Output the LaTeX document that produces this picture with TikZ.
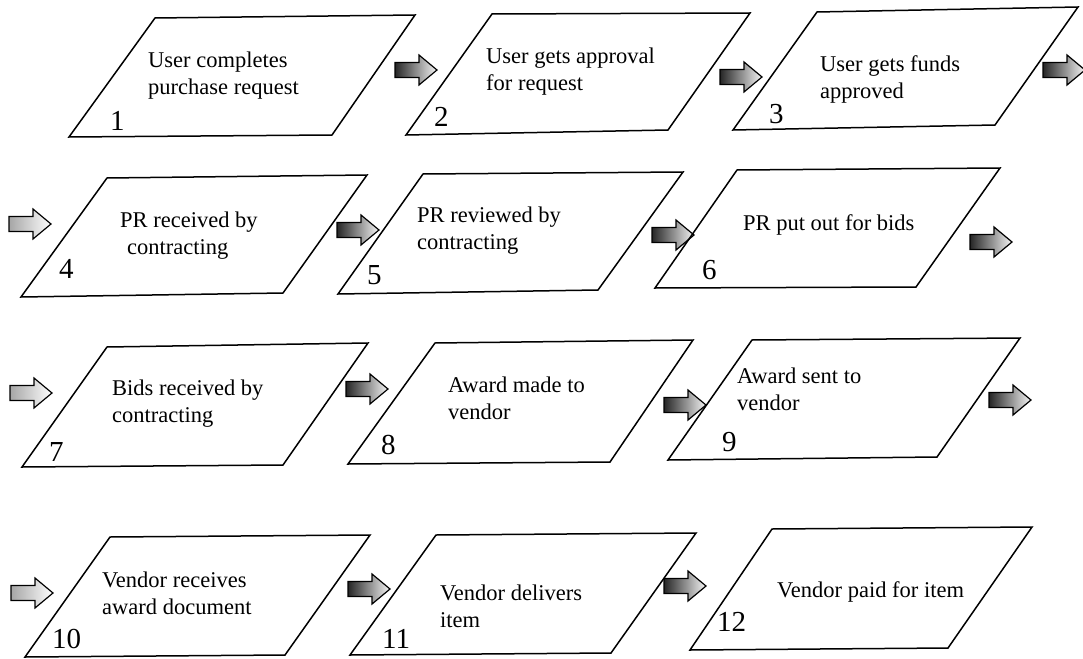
\documentclass[tikz,border=0pt]{standalone}
\usepackage{fontspec}
\setmainfont{Liberation Serif}
\begin{document}
\begin{tikzpicture}[x=1pt,y=-1pt,
  stepbox/.style={draw, line width=1.5pt, line join=miter},
  steptext/.style={anchor=base west, align=left, inner sep=0pt,
                   font=\fontsize{22.5}{27}\selectfont},
  stepnum/.style={anchor=base west, inner sep=0pt,
                  font=\fontsize{29}{30}\selectfont},
  arrowfill/.style={left color=black!85, right color=black!4},
  lightfill/.style={left color=black!35, right color=white},
  pics/blockarrow/.style={code={
    \path[draw, line width=1.2pt, line join=miter, #1]
      (-21,-7.5) -- (3,-7.5) -- (3,-15) -- (21,0) -- (3,15) -- (3,7.5)
      -- (-21,7.5) -- cycle;
    \coordinate (-tip) at (21,0);
    \coordinate (-tail) at (-21,0);
  }}]
\useasboundingbox (0,0) rectangle (1083,658);

% ---- row 1 ----
\draw[stepbox] (69,137) -- (155,18) -- (415,15) -- (332,135) -- cycle;
\node[steptext] (t1) at (148,95) {User completes\\purchase request};
\node[stepnum] (n1) at (110,130) {1};
\pic (a1) at (416,70) {blockarrow=arrowfill};

\draw[stepbox] (406,135) -- (492,14) -- (750,13) -- (668,130) -- cycle;
\node[steptext] (t2) at (486,91) {User gets approval\\for request};
\node[stepnum] (n2) at (434,126) {2};
\pic (a2) at (741,77) {blockarrow=arrowfill};

\draw[stepbox] (733,130) -- (817,12) -- (1078,7) -- (995,125) -- cycle;
\node[steptext] (t3) at (820,99) {User gets funds\\approved};
\node[stepnum] (n3) at (769,124) {3};
\pic (a3) at (1064,70) {blockarrow=arrowfill};

% ---- row 2 ----
\pic (a4) at (30,224) {blockarrow=lightfill};
\draw[stepbox] (21,297) -- (107,178) -- (367,175) -- (283,293) -- cycle;
\node[steptext] (t4) at (120,254) {PR received by\\\hspace*{7pt}contracting};
\node[stepnum] (n4) at (59,278) {4};
\pic (a5) at (358,230) {blockarrow=arrowfill};

\draw[stepbox] (338,294) -- (423,174) -- (683,172) -- (598,290) -- cycle;
\node[steptext] (t5) at (417,249) {PR reviewed by\\contracting};
\node[stepnum] (n5) at (367,284) {5};
\pic (a6) at (673,235) {blockarrow=arrowfill};

\draw[stepbox] (655,288) -- (737,170) -- (1000,168) -- (916,287) -- cycle;
\node[steptext] (t6) at (743,230) {PR put out for bids};
\node[stepnum] (n6) at (702,279) {6};
\pic (a7) at (991,242) {blockarrow=arrowfill};

% ---- row 3 ----
\pic (a8) at (31,393) {blockarrow=lightfill};
\draw[stepbox] (22,467) -- (107,347) -- (368,343) -- (283,465) -- cycle;
\node[steptext] (t7) at (112,422) {Bids received by\\contracting};
\node[stepnum] (n7) at (49,461) {7};
\pic (a9) at (367,389) {blockarrow=arrowfill};

\draw[stepbox] (348,464) -- (435,343) -- (693,340) -- (610,462) -- cycle;
\node[steptext] (t8) at (448,419) {Award made to\\vendor};
\node[stepnum] (n8) at (381,454) {8};
\pic (a10) at (685,405) {blockarrow=arrowfill};

\draw[stepbox] (668,460) -- (752,340) -- (1020,338) -- (937,457) -- cycle;
\node[steptext] (t9) at (737,410) {Award sent to\\vendor};
\node[stepnum] (n9) at (722,451) {9};
\pic (a11) at (1010,400) {blockarrow=arrowfill};

% ---- row 4 ----
\pic (a12) at (32,593) {blockarrow=lightfill};
\draw[stepbox] (25,657) -- (110,537) -- (370,535) -- (285,655) -- cycle;
\node[steptext] (t10) at (102,614) {Vendor receives\\award document};
\node[stepnum] (n10) at (52,648) {10};
\pic (a13) at (369,589) {blockarrow=arrowfill};

\draw[stepbox] (350,655) -- (436,535) -- (696,533) -- (611,653) -- cycle;
\node[steptext] (t11) at (440,627) {Vendor delivers\\item};
\node[stepnum] (n11) at (382,648) {11};
\pic (a14) at (685,586) {blockarrow=arrowfill};

\draw[stepbox] (690,650) -- (772,529) -- (1032,527) -- (948,648) -- cycle;
\node[steptext] (t12) at (777,597) {Vendor paid for item};
\node[stepnum] (n12) at (717,631) {12};
\end{tikzpicture}
\end{document}
